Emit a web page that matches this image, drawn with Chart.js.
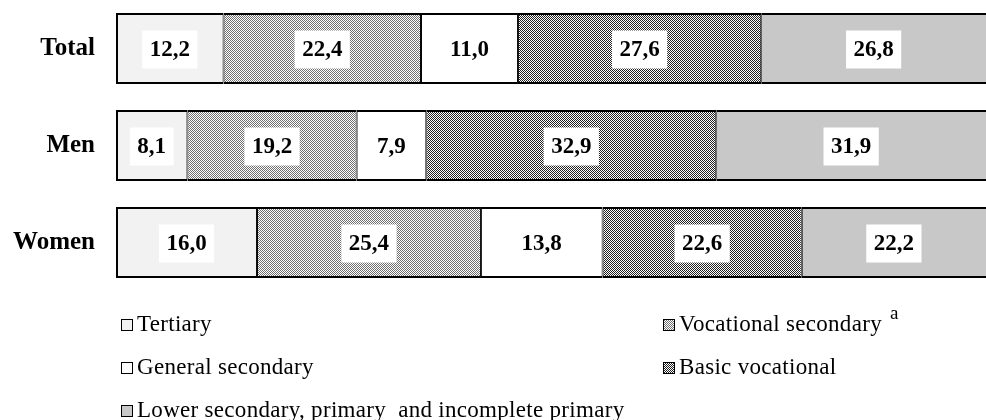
<!DOCTYPE html>
<html>
<head>
<meta charset="utf-8">
<script src="https://cdn.jsdelivr.net/npm/chart.js@4"></script>
<style>
  body { margin: 0; background: #fff; }
  #wrap { width: 986px; height: 420px; position: relative; }
</style>
</head>
<body>
<div id="wrap"><canvas id="chart"></canvas></div>
<script>
const categories = ["Total", "Men", "Women"];
const seriesNames = [
  "Tertiary",
  "Vocational secondary",
  "General secondary",
  "Basic vocational",
  "Lower secondary, primary  and incomplete primary"
];
const seriesNotes = ["", "a", "", "", ""];
const tertiary = [12.2, 8.1, 16.0];
const vocationalSecondary = [22.4, 19.2, 25.4];
const generalSecondary = [11.0, 7.9, 13.8];
const basicVocational = [27.6, 32.9, 22.6];
const lowerSecondary = [26.8, 31.9, 22.2];

// little checker patterns for the hatched fills
function checker(dark, light) {
  const c = document.createElement('canvas');
  c.width = 2; c.height = 2;
  const g = c.getContext('2d');
  g.fillStyle = light; g.fillRect(0, 0, 2, 2);
  g.fillStyle = dark; g.fillRect(0, 0, 1, 1); g.fillRect(1, 1, 1, 1);
  return g.createPattern(c, 'repeat');
}

const ctx = document.querySelector('#chart').getContext('2d');
const fills = [
  '#f2f2f2',
  checker('#707070', '#ffffff'),
  '#ffffff',
  checker('#202020', '#ffffff'),
  '#c8c8c8'
];
const values = [tertiary, vocationalSecondary, generalSecondary, basicVocational, lowerSecondary];

const datasets = seriesNames.map((name, i) => ({
  label: name,
  data: values[i],
  backgroundColor: fills[i],
  borderColor: '#000',
  borderWidth: { top: 2, bottom: 2, left: i === 0 ? 2 : 1, right: 1 },
  borderSkipped: false,
  barPercentage: 0.73,
  categoryPercentage: 1
}));

// white boxes with the values
const valueLabels = {
  id: 'valueLabels',
  afterDatasetsDraw(chart) {
    const c = chart.ctx;
    const area = chart.chartArea;
    c.save();
    c.font = 'bold 23px "Liberation Serif"';
    c.textAlign = 'center';
    c.textBaseline = 'middle';
    chart.data.datasets.forEach((ds, i) => {
      chart.getDatasetMeta(i).data.forEach((el, j) => {
        const l = Math.min(el.x, el.base);
        const r = Math.min(Math.max(el.x, el.base), area.right);
        const cx = (l + r) / 2;
        const txt = ds.data[j].toFixed(1).replace('.', ',');
        const w = c.measureText(txt).width + 15;
        c.fillStyle = '#fff';
        c.fillRect(cx - w / 2, el.y - 18, w, 38);
        c.fillStyle = '#000';
        c.fillText(txt, cx, el.y + 2);
      });
    });
    c.restore();
  }
};

// legend in two columns
const legendSpots = [[121, 325], [663, 325], [121, 368], [663, 368], [121, 411]];
const customLegend = {
  id: 'customLegend',
  afterDraw(chart) {
    const c = chart.ctx;
    c.save();
    c.textBaseline = 'middle';
    c.textAlign = 'left';
    c.letterSpacing = '0.3px';
    chart.data.datasets.forEach((ds, i) => {
      const [x, y] = legendSpots[i];
      c.fillStyle = ds.backgroundColor;
      c.fillRect(x, y - 6, 12, 12);
      c.strokeStyle = '#000';
      c.lineWidth = 1;
      c.strokeRect(x + 0.5, y - 5.5, 11, 11);
      c.fillStyle = '#000';
      c.font = '23px "Liberation Serif"';
      c.fillText(ds.label, x + 16, y);
      if (seriesNotes[i]) {
        const w = c.measureText(ds.label).width;
        c.font = '19px "Liberation Serif"';
        c.fillText(seriesNotes[i], x + 16 + w + 8, y - 11);
      }
    });
    c.restore();
  }
};

new Chart(ctx, {
  type: 'bar',
  data: { labels: categories, datasets: datasets },
  options: {
    indexAxis: 'y',
    responsive: true,
    maintainAspectRatio: false,
    animation: false,
    events: [],
    layout: { padding: { top: 0, bottom: 129, left: 0, right: 0 } },
    plugins: { legend: { display: false }, tooltip: { enabled: false } },
    scales: {
      x: { stacked: true, min: 0, max: 98.7, display: false },
      y: {
        stacked: true,
        grid: { display: false, drawTicks: false },
        border: { display: false },
        ticks: {
          color: '#000',
          padding: 21,
          font: { family: 'Liberation Serif', size: 25, weight: 'bold' }
        },
        afterFit(scale) {
          scale.width = 116;
          scale.paddingTop = 0;
          scale.paddingBottom = 0;
        }
      }
    }
  },
  plugins: [valueLabels, customLegend]
});
</script>
</body>
</html>
